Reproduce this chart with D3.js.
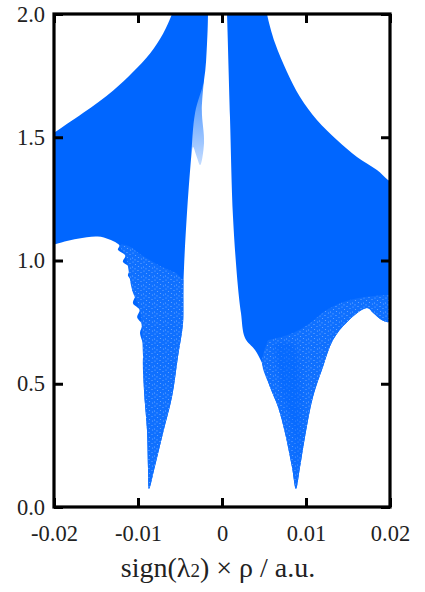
<!DOCTYPE html>
<html>
<head>
<meta charset="utf-8">
<script src="https://cdn.jsdelivr.net/npm/d3@7"></script>
<style>
html, body { margin: 0; padding: 0; background: #fff; }
text { font-family: "Liberation Serif", serif; fill: #222; }
</style>
</head>
<body>
<div id="chart"></div>
<script>
var xTicks = [-0.02, -0.01, 0, 0.01, 0.02];
var xTickLabels = ["-0.02", "-0.01", "0", "0.01", "0.02"];
var yTicks = [0, 0.5, 1, 1.5, 2];
var yTickLabels = ["0.0", "0.5", "1.0", "1.5", "2.0"];

var leftLobe = [[-0.0205, 1.503], [-0.02, 1.517], [-0.01655, 1.598], [-0.01295, 1.69], [-0.0106, 1.765], [-0.00857, 1.84],
    [-0.00702, 1.92], [-0.00595, 2.0], [-0.0054, 2.05], [-0.0017, 2.05], [-0.00167, 2.0], [-0.00178, 1.882], [-0.00214, 1.732],
    [-0.0032, 1.6], [-0.0037, 1.408], [-0.00417, 1.193], [-0.00452, 0.974], [-0.00464, 0.84],
    [-0.00464, 0.746], [-0.00524, 0.61], [-0.00595, 0.447], [-0.00702, 0.30], [-0.0080, 0.162],
    [-0.00869, 0.073], [-0.0088, 0.15], [-0.00893, 0.312], [-0.00929, 0.475], [-0.0094, 0.61],
    [-0.0092, 0.64], [-0.00976, 0.706], [-0.0095, 0.74], [-0.0101, 0.77], [-0.0098, 0.80],
    [-0.0106, 0.827], [-0.0103, 0.86], [-0.0107, 0.88], [-0.0106, 0.91], [-0.0112, 0.94],
    [-0.0109, 0.97], [-0.0118, 0.995], [-0.0115, 1.02], [-0.0124, 1.045], [-0.0122, 1.06],
    [-0.0134, 1.085], [-0.0148, 1.097], [-0.0172, 1.088], [-0.02, 1.065], [-0.0205, 1.06]];
var leftStreak = [[-0.00214, 1.732], [-0.0024, 1.61], [-0.00214, 1.477], [-0.0026, 1.387], [-0.003, 1.42],
    [-0.00345, 1.46], [-0.0037, 1.408], [-0.0034, 1.75]];
var leftSparse = [[-0.0046, 0.92], [-0.00464, 0.746], [-0.00524, 0.61], [-0.00595, 0.447], [-0.00702, 0.30],
    [-0.0080, 0.162], [-0.00869, 0.073], [-0.0088, 0.15], [-0.00893, 0.312], [-0.00929, 0.475],
    [-0.0094, 0.61], [-0.0098, 0.80], [-0.0107, 0.88], [-0.0115, 1.02], [-0.0122, 1.06],
    [-0.0112, 1.06], [-0.0095, 1.02], [-0.0075, 0.98], [-0.0055, 0.95]];

var rightLobe = [[0.00055, 2.05], [0.0006, 2.0], [0.00095, 1.582], [0.00131, 1.176], [0.0019, 0.893], [0.00226, 0.787],
    [0.00274, 0.686], [0.00393, 0.637], [0.00476, 0.584], [0.00571, 0.487], [0.00667, 0.406],
    [0.0075, 0.30], [0.00833, 0.162], [0.00881, 0.073], [0.00929, 0.162], [0.00988, 0.284],
    [0.01083, 0.446], [0.01202, 0.568], [0.01321, 0.677], [0.01488, 0.75], [0.01726, 0.807],
    [0.0180, 0.787], [0.019, 0.759], [0.01976, 0.75], [0.0206, 0.76], [0.0206, 1.31], [0.01976, 1.327],
    [0.01845, 1.367], [0.01607, 1.42], [0.01369, 1.489], [0.0113, 1.57], [0.00929, 1.663],
    [0.00774, 1.765], [0.00631, 1.882], [0.00536, 2.0], [0.0052, 2.05]];
var rightSparse = [[0.0052, 0.65], [0.00476, 0.584], [0.00571, 0.487], [0.00667, 0.406], [0.0075, 0.30],
    [0.00833, 0.162], [0.00881, 0.073], [0.00929, 0.162], [0.00988, 0.284], [0.01083, 0.446],
    [0.01202, 0.568], [0.01321, 0.677], [0.01488, 0.75], [0.01726, 0.807], [0.0180, 0.787],
    [0.019, 0.759], [0.01976, 0.75], [0.0206, 0.76], [0.0206, 0.86], [0.0196, 0.86], [0.0152, 0.84],
    [0.0125, 0.80], [0.0105, 0.746], [0.0085, 0.706], [0.0055, 0.677]];
var rightCore = [[0.0062, 0.66], [0.0085, 0.66], [0.0093, 0.5], [0.0093, 0.3], [0.0089, 0.12], [0.0085, 0.3], [0.0072, 0.45]];

/***** Layout *****/
var width = 425, height = 592;
var x = d3.scaleLinear().domain([-0.02, 0.02]).range([54, 390]);
var y = d3.scaleLinear().domain([0, 2]).range([507, 14]);

var svg = d3.select("#chart").append("svg")
    .attr("width", width)
    .attr("height", height)
    .style("display", "block");

var defs = svg.append("defs");
defs.append("clipPath").attr("id", "frame").append("rect")
    .attr("x", x(-0.02)).attr("y", y(2))
    .attr("width", x(0.02) - x(-0.02)).attr("height", y(0) - y(2));

// speckled texture of the thin part of the cloud
var speckle = defs.append("pattern").attr("id", "speckle")
    .attr("patternUnits", "userSpaceOnUse").attr("width", 11).attr("height", 9);
speckle.append("rect").attr("width", 11).attr("height", 9).attr("fill", "#0f70ff");
[[1, 1], [6, 0.5], [3.5, 3.5], [9, 2.5], [0.5, 6], [6.5, 5.5], [3, 7.8], [9.5, 7]].forEach(function(d) {
    speckle.append("circle").attr("cx", d[0]).attr("cy", d[1]).attr("r", 0.6)
        .attr("fill", "#fff").attr("opacity", 0.4);
});

// soft edge for the denser middle of the right cusp
defs.append("filter").attr("id", "soften")
    .append("feGaussianBlur").attr("stdDeviation", 2.5);
defs.append("clipPath").attr("id", "rightClip").append("path");

var streakFade = defs.append("linearGradient").attr("id", "streakFade")
    .attr("x1", 0).attr("x2", 0).attr("y1", 0).attr("y2", 1);
streakFade.append("stop").attr("offset", "0%").attr("stop-color", "#2f85ff");
streakFade.append("stop").attr("offset", "100%").attr("stop-color", "#c4dcff");

var outline = d3.line()
    .x(function(d) { return x(d[0]); })
    .y(function(d) { return y(d[1]); })
    .curve(d3.curveCatmullRom.alpha(0.5));

d3.select("#rightClip path").attr("d", outline(rightLobe) + "Z");

/***** Point cloud *****/
var cloud = svg.append("g").attr("clip-path", "url(#frame)");

cloud.append("path").attr("d", outline(leftStreak) + "Z").attr("fill", "url(#streakFade)");
cloud.append("path").attr("d", outline(leftLobe) + "Z").attr("fill", "#0066ff");
cloud.append("path").attr("d", outline(rightLobe) + "Z").attr("fill", "#0066ff");
cloud.append("path").attr("d", outline(leftSparse) + "Z").attr("fill", "url(#speckle)");
cloud.append("path").attr("d", outline(rightSparse) + "Z").attr("fill", "url(#speckle)");
cloud.append("g").attr("clip-path", "url(#rightClip)")
    .append("path").attr("d", outline(rightCore) + "Z")
    .attr("fill", "#0066ff").attr("opacity", 0.5).attr("filter", "url(#soften)");

/***** Axes *****/
function styleAxis(g) {
    g.select(".domain").remove();
    g.selectAll("line").attr("stroke", "#000").attr("stroke-width", 3);
    g.selectAll("text").attr("font-size", 22.5).attr("fill", "#222");
}

svg.append("g").attr("transform", "translate(0,507)")
    .call(d3.axisBottom(x).tickValues(xTicks).tickSize(-9).tickPadding(18)
        .tickFormat(function(d, i) { return xTickLabels[i]; }))
    .call(styleAxis);
svg.append("g").attr("transform", "translate(0,14)")
    .call(d3.axisTop(x).tickValues(xTicks).tickSize(-9).tickFormat(""))
    .call(styleAxis);
svg.append("g").attr("transform", "translate(54,0)")
    .call(d3.axisLeft(y).tickValues(yTicks).tickSize(-9).tickPadding(9)
        .tickFormat(function(d, i) { return yTickLabels[i]; }))
    .call(styleAxis);
svg.append("g").attr("transform", "translate(390,0)")
    .call(d3.axisRight(y).tickValues(yTicks).tickSize(-9).tickFormat(""))
    .call(styleAxis);

svg.append("rect")
    .attr("x", x(-0.02)).attr("y", y(2))
    .attr("width", x(0.02) - x(-0.02)).attr("height", y(0) - y(2))
    .attr("fill", "none").attr("stroke", "#000").attr("stroke-width", 3.2);

/***** Axis title *****/
var title = svg.append("text")
    .attr("x", 218).attr("y", 577)
    .attr("text-anchor", "middle")
    .attr("font-size", 28);
title.append("tspan").text("sign(λ");
title.append("tspan").attr("font-size", 19).text("2");
title.append("tspan").text(") × ρ / a.u.");
</script>
</body>
</html>
